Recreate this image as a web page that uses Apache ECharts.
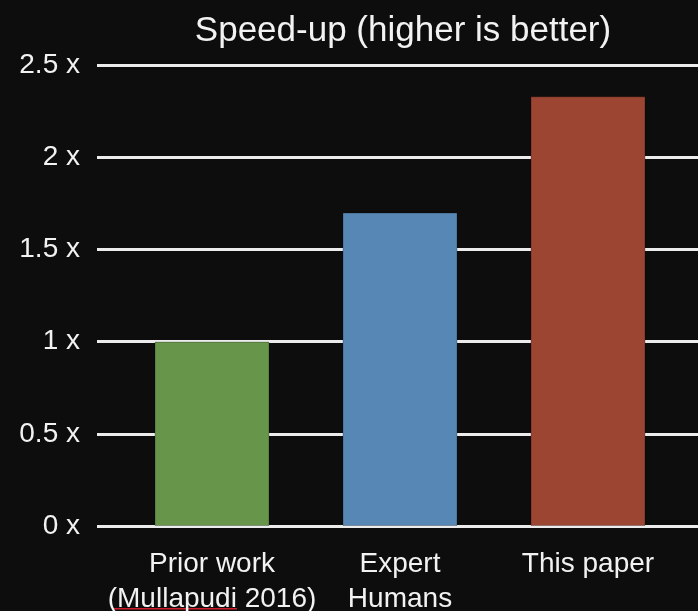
<!DOCTYPE html>
<html>
<head>
<meta charset="utf-8">
<script src="https://cdn.jsdelivr.net/npm/echarts@6/dist/echarts.min.js"></script>
<style>
  html, body { margin: 0; padding: 0; background: #0d0d0d; }
  #chart { width: 698px; height: 611px; }
</style>
</head>
<body>
<div id="chart"></div>
<script>
// Speed-up of each approach relative to prior work
const categories = ['Prior work\n(Mullapudi 2016)', 'Expert\nHumans', 'This paper'];
const speedups = [1.0, 1.7, 2.33];
const barColors = ['#67964b', '#5687b5', '#9c4533'];
const yTicks = [0, 0.5, 1, 1.5, 2, 2.5];

const chart = echarts.init(document.getElementById('chart'), null, { renderer: 'canvas' });

const FONT = '"Liberation Sans", Helvetica, Arial, sans-serif';

chart.setOption({
  backgroundColor: '#0d0d0d',
  animation: false,
  title: {
    text: 'Speed-up (higher is better)',
    left: 398,
    textAlign: 'center',
    top: 7,
    textStyle: { color: '#f2f2f2', fontFamily: FONT, fontSize: 35, fontWeight: 'normal', lineHeight: 38 }
  },
  grid: [
    // wide grid carrying the horizontal rules and tick labels
    { left: 97, right: 0, top: 65, bottom: 85, outerBoundsMode: 'none', containLabel: false },
    // bar grid
    { left: 118, right: 16, top: 65, bottom: 85, outerBoundsMode: 'none', containLabel: false }
  ],
  xAxis: [
    { gridIndex: 0, type: 'value', min: 0, max: 1, show: false },
    {
      gridIndex: 1,
      type: 'category',
      data: categories,
      axisLine: { show: false },
      axisTick: { show: false },
      axisLabel: {
        color: '#f2f2f2',
        fontFamily: FONT,
        fontSize: 28,
        lineHeight: 35,
        margin: 21,
        interval: 0,
        hideOverlap: false
      }
    }
  ],
  yAxis: [
    {
      gridIndex: 0,
      type: 'value',
      min: 0,
      max: 2.5,
      interval: 0.5,
      axisLine: { show: false },
      axisTick: { show: false },
      axisLabel: {
        color: '#f2f2f2',
        fontFamily: FONT,
        fontSize: 28,
        margin: 17,
        formatter: v => (yTicks.includes(v) ? v + ' x' : '')
      },
      splitLine: { show: true, lineStyle: { color: '#ececec', width: 3 } }
    },
    {
      gridIndex: 1,
      type: 'value',
      min: 0,
      max: 2.5,
      interval: 0.5,
      show: false,
      splitLine: { show: false }
    }
  ],
  series: [
    {
      type: 'bar',
      xAxisIndex: 1,
      yAxisIndex: 1,
      barWidth: 115,
      data: speedups.map((v, i) => ({
        value: v,
        itemStyle: { color: barColors[i], borderColor: 'rgba(0,0,0,0.25)', borderWidth: 1 }
      }))
    }
  ],
  graphic: [
    {
      // spell-check squiggle under the author name
      type: 'polyline',
      shape: {
        points: (() => {
          const pts = [];
          for (let x = 113; x <= 238; x += 2) pts.push([x, 608 + ((x / 2) % 2 ? 0.7 : -0.7)]);
          return pts;
        })()
      },
      style: { stroke: '#d01f2a', lineWidth: 1.5, fill: null },
      silent: true
    }
  ]
});
</script>
</body>
</html>
